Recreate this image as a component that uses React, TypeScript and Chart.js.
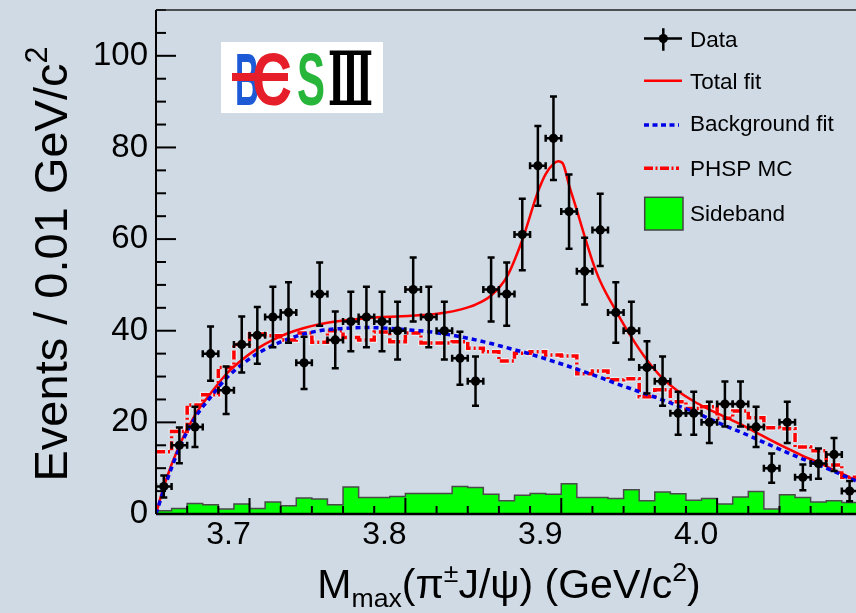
import React, { useEffect, useRef } from "react";
import { Chart, registerables } from "chart.js";

Chart.register(...registerables);

// ---------- data ----------
const massCenters = [3.645, 3.655, 3.665, 3.675, 3.685, 3.695, 3.705, 3.715, 3.725, 3.735, 3.745, 3.755, 3.765, 3.775, 3.785, 3.795, 3.805, 3.815, 3.825, 3.835, 3.845, 3.855, 3.865, 3.875, 3.885, 3.895, 3.905, 3.915, 3.925, 3.935, 3.945, 3.955, 3.965, 3.975, 3.985, 3.995, 4.005, 4.015, 4.025, 4.035, 4.045, 4.055, 4.065, 4.075, 4.085];
const dataCounts = [6, 15, 19, 35, 27, 37, 39, 43, 44, 33, 48, 38, 42, 43, 42, 40, 49, 43, 40, 34, 29, 49, 48, 61, 76, 82, 66, 53, 62, 44, 40, 32, 29, 22, 22, 20, 24, 24, 19, 10, 20, 8, 11, 13, 5];
const dataErrors = [2.4, 3.9, 4.4, 5.9, 5.2, 6.1, 6.2, 6.6, 6.6, 5.7, 6.9, 6.2, 6.5, 6.6, 6.5, 6.3, 7.0, 6.6, 6.3, 5.8, 5.4, 7.0, 6.9, 7.8, 8.7, 9.1, 8.1, 7.3, 7.9, 6.6, 6.3, 5.7, 5.4, 4.7, 4.7, 4.5, 4.9, 4.9, 4.4, 3.2, 4.5, 2.8, 3.3, 3.6, 2.2];
const BIN_HALF_WIDTH = 0.005;

const totalFitMass = [3.640, 3.645, 3.655, 3.665, 3.675, 3.685, 3.695, 3.705, 3.715, 3.725, 3.735, 3.745, 3.755, 3.765, 3.775, 3.785, 3.795, 3.805, 3.815, 3.825, 3.835, 3.845, 3.855, 3.865, 3.875, 3.885, 3.890, 3.895, 3.898, 3.901, 3.905, 3.910, 3.915, 3.920, 3.925, 3.935, 3.945, 3.955, 3.965, 3.975, 3.985, 3.995, 4.005, 4.015, 4.025, 4.035, 4.045, 4.055, 4.065, 4.075, 4.085, 4.090];
const totalFitValues = [0, 6.0, 15.0, 21.6, 26.3, 30.5, 33.6, 36.1, 38.0, 39.5, 40.6, 41.4, 42.0, 42.4, 42.7, 43.0, 43.1, 43.3, 43.5, 43.9, 44.6, 45.7, 47.7, 51.7, 59.8, 70.3, 74.2, 76.4, 77.0, 76.5, 71.8, 66.3, 60.6, 55.2, 50.8, 44.4, 38.6, 33.6, 29.6, 26.8, 24.6, 22.8, 21.2, 19.6, 17.8, 16.0, 14.3, 12.7, 11.2, 9.6, 8.0, 7.3];

const bkgFitMass = [3.640, 3.645, 3.655, 3.665, 3.675, 3.685, 3.695, 3.705, 3.715, 3.725, 3.735, 3.745, 3.755, 3.765, 3.775, 3.785, 3.795, 3.805, 3.815, 3.825, 3.835, 3.845, 3.855, 3.865, 3.875, 3.885, 3.895, 3.905, 3.915, 3.925, 3.935, 3.945, 3.955, 3.965, 3.975, 3.985, 3.995, 4.005, 4.015, 4.025, 4.035, 4.045, 4.055, 4.065, 4.075, 4.085, 4.090];
const bkgFitValues = [0, 5.3, 14.4, 21.0, 25.5, 29.6, 32.6, 35.0, 36.8, 38.2, 39.3, 40.0, 40.4, 40.6, 40.7, 40.6, 40.4, 40.1, 39.8, 39.3, 38.7, 38.0, 37.2, 36.3, 35.4, 34.4, 33.3, 32.2, 31.0, 29.8, 28.5, 27.3, 26.1, 24.9, 23.6, 22.3, 20.8, 19.3, 17.9, 16.4, 14.9, 13.4, 12.0, 10.7, 9.3, 7.8, 7.1];

const phspValues = [13.6, 18.0, 23.8, 26.0, 32.0, 37.0, 39.3, 38.9, 38.0, 39.5, 37.5, 40.0, 38.5, 38.0, 39.7, 37.6, 39.5, 37.3, 37.3, 37.6, 36.2, 35.4, 33.4, 35.1, 35.4, 34.7, 34.5, 30.6, 31.2, 29.3, 29.5, 25.6, 27.1, 24.5, 23.0, 23.4, 20.9, 22.5, 21.0, 18.8, 18.6, 14.6, 13.8, 10.7, 8.0];
const sidebandValues = [0.7, 1.2, 2.3, 2.0, 1.1, 2.2, 1.2, 2.6, 1.8, 3.5, 3.3, 2.0, 5.9, 3.6, 3.6, 3.8, 4.5, 4.5, 4.5, 6.0, 5.8, 4.3, 2.9, 4.1, 4.5, 4.3, 6.6, 3.6, 3.6, 3.4, 5.3, 2.9, 4.8, 4.4, 3.0, 3.4, 2.2, 3.7, 4.9, 1.1, 4.2, 3.6, 2.6, 2.9, 2.5];

const xTickValues = [3.7, 3.8, 3.9, 4.0];
const yTickValues = [0, 20, 40, 60, 80, 100];
const legendLabels = ["Data", "Total fit", "Background fit", "PHSP MC", "Sideband"];

// ---------- style ----------
const FONT = "'Liberation Sans', Arial, Helvetica, sans-serif";
const BG = "rgb(207,218,229)";
const RED = "#ff0000";
const BLUE = "#0000e6";
const GREEN = "#00ff00";

type Run = { t: string; s?: number; dy?: number };

function measureRuns(ctx: CanvasRenderingContext2D, runs: Run[], size: number) {
  return runs.map((r) => {
    ctx.font = `${size * (r.s ?? 1)}px ${FONT}`;
    return ctx.measureText(r.t).width;
  });
}

function drawRunsCentered(ctx: CanvasRenderingContext2D, runs: Run[], cx: number, baseline: number, size: number) {
  const widths = measureRuns(ctx, runs, size);
  const total = widths.reduce((a, b) => a + b, 0);
  let x = cx - total / 2;
  runs.forEach((r, i) => {
    ctx.font = `${size * (r.s ?? 1)}px ${FONT}`;
    ctx.fillText(r.t, x, baseline + (r.dy ?? 0) * size);
    x += widths[i];
  });
}

function drawFitted(ctx: CanvasRenderingContext2D, text: string, left: number, right: number, baseline: number, font: string, color: string) {
  ctx.save();
  ctx.font = font;
  const w = ctx.measureText(text).width;
  ctx.translate(left, baseline);
  ctx.scale((right - left) / w, 1);
  ctx.fillStyle = color;
  ctx.textAlign = "left";
  ctx.textBaseline = "alphabetic";
  ctx.fillText(text, 0, 0);
  ctx.restore();
}

const overlayPlugin = {
  id: "overlay",
  beforeDraw(chart: any) {
    const ctx = chart.ctx as CanvasRenderingContext2D;
    ctx.save();
    ctx.fillStyle = BG;
    ctx.fillRect(0, 0, chart.width, chart.height);
    ctx.restore();
  },
  afterDatasetsDraw(chart: any) {
    const ctx = chart.ctx as CanvasRenderingContext2D;
    const a = chart.chartArea;
    const xs = chart.scales.x;
    const ys = chart.scales.y;

    // error bars
    ctx.save();
    ctx.beginPath();
    ctx.rect(a.left, a.top, a.right - a.left, a.bottom - a.top);
    ctx.clip();
    ctx.strokeStyle = "#000";
    ctx.lineWidth = 2.5;
    const cap = 3.5;
    massCenters.forEach((m, i) => {
      const px = xs.getPixelForValue(m);
      const py = ys.getPixelForValue(dataCounts[i]);
      const pl = xs.getPixelForValue(m - BIN_HALF_WIDTH);
      const pr = xs.getPixelForValue(m + BIN_HALF_WIDTH);
      const pt = ys.getPixelForValue(dataCounts[i] + dataErrors[i]);
      const pb = ys.getPixelForValue(dataCounts[i] - dataErrors[i]);
      ctx.beginPath();
      ctx.moveTo(pl, py); ctx.lineTo(pr, py);
      ctx.moveTo(px, pt); ctx.lineTo(px, pb);
      ctx.moveTo(pl, py - cap); ctx.lineTo(pl, py + cap);
      ctx.moveTo(pr, py - cap); ctx.lineTo(pr, py + cap);
      ctx.moveTo(px - cap, pt); ctx.lineTo(px + cap, pt);
      ctx.moveTo(px - cap, pb); ctx.lineTo(px + cap, pb);
      ctx.stroke();
    });
    ctx.restore();

    // frame + inner ticks
    ctx.save();
    ctx.strokeStyle = "#000";
    ctx.lineWidth = 2;
    for (let v = 0; v <= ys.max + 1e-9; v += 5) {
      const y = ys.getPixelForValue(v);
      const len = v % 20 === 0 ? 20 : 10;
      ctx.beginPath();
      ctx.moveTo(a.left, y);
      ctx.lineTo(a.left + len, y);
      ctx.stroke();
    }
    for (let k = 0; ; k++) {
      const v = xs.min + 0.02 * k;
      if (v > xs.max + 1e-9) break;
      const major = Math.abs(v * 10 - Math.round(v * 10)) < 1e-6;
      const x = xs.getPixelForValue(v);
      ctx.beginPath();
      ctx.moveTo(x, a.bottom);
      ctx.lineTo(x, a.bottom - (major ? 16 : 8));
      ctx.stroke();
    }
    ctx.lineWidth = 2;
    ctx.beginPath();
    ctx.moveTo(a.left, a.top);
    ctx.lineTo(a.left, a.bottom);
    ctx.stroke();
    ctx.lineWidth = 2.5;
    ctx.beginPath();
    ctx.moveTo(a.left, a.bottom);
    ctx.lineTo(a.right, a.bottom);
    ctx.stroke();
    ctx.lineWidth = 1.3;
    ctx.strokeStyle = "#222";
    ctx.beginPath();
    ctx.moveTo(a.left, a.top);
    ctx.lineTo(a.right, a.top);
    ctx.stroke();
    ctx.restore();
  },
  afterDraw(chart: any) {
    const ctx = chart.ctx as CanvasRenderingContext2D;
    ctx.save();
    ctx.fillStyle = "#000";
    ctx.textBaseline = "alphabetic";
    ctx.textAlign = "left";

    // x title
    drawRunsCentered(
      ctx,
      [
        { t: "M" },
        { t: "max", s: 0.65, dy: 0.22 },
        { t: "(π" },
        { t: "±", s: 0.65, dy: -0.4 },
        { t: "J/ψ) (GeV/c" },
        { t: "2", s: 0.65, dy: -0.42 },
        { t: ")" },
      ],
      509,
      598,
      41
    );

    // y title
    ctx.save();
    ctx.translate(67, 264);
    ctx.rotate(-Math.PI / 2);
    drawRunsCentered(ctx, [{ t: "Events / 0.01 GeV/c" }, { t: "2", s: 0.65, dy: -0.42 }], 0, 0, 47);
    ctx.restore();

    // legend
    const lx0 = 644, lx1 = 682, tx = 690;
    const baselines = [46.7, 89.3, 131, 176, 220.7];
    const centers = [38.5, 80.7, 125, 168.3, 213.5];
    ctx.font = `22.5px ${FONT}`;
    legendLabels.forEach((lab, i) => ctx.fillText(lab, tx, baselines[i]));
    // data symbol
    ctx.strokeStyle = "#000";
    ctx.lineWidth = 2.5;
    ctx.beginPath();
    ctx.moveTo(lx0, centers[0]); ctx.lineTo(lx1, centers[0]);
    ctx.moveTo(663.3, 28.3); ctx.lineTo(663.3, 50.7);
    ctx.stroke();
    ctx.beginPath();
    ctx.arc(663.3, centers[0], 4.6, 0, Math.PI * 2);
    ctx.fill();
    // total fit
    ctx.strokeStyle = RED;
    ctx.lineWidth = 2.5;
    ctx.beginPath(); ctx.moveTo(lx0, centers[1]); ctx.lineTo(lx1, centers[1]); ctx.stroke();
    // background
    ctx.strokeStyle = BLUE;
    ctx.lineWidth = 3.5;
    ctx.setLineDash([5, 3.5]);
    ctx.beginPath(); ctx.moveTo(lx0, centers[2]); ctx.lineTo(lx1 - 3, centers[2]); ctx.stroke();
    // phsp
    ctx.strokeStyle = RED;
    ctx.setLineDash([9, 2.5, 2, 2.5]);
    ctx.beginPath(); ctx.moveTo(lx0, centers[3]); ctx.lineTo(lx1 - 3, centers[3]); ctx.stroke();
    ctx.setLineDash([]);
    // sideband box
    ctx.fillStyle = GREEN;
    ctx.fillRect(644.7, 197.3, 38.3, 32.7);
    ctx.strokeStyle = "#444";
    ctx.lineWidth = 1.5;
    ctx.strokeRect(644.7, 197.3, 38.3, 32.7);

    // BESIII logo
    ctx.fillStyle = "#ffffff";
    ctx.fillRect(221, 42, 162, 71);
    const bold = `bold 74px ${FONT}`;
    drawFitted(ctx, "B", 235, 259, 105, bold, "#1f5ad6");
    drawFitted(ctx, "C", 252, 292, 105, bold, "#e61e2a");
    ctx.fillStyle = "#e61e2a";
    ctx.fillRect(232, 73, 56, 8);
    drawFitted(ctx, "S", 297, 325, 105, bold, "#27b53a");
    drawFitted(ctx, "Ⅲ", 328, 373, 105, `bold 74px 'DejaVu Serif', serif`, "#000000");

    ctx.restore();
  },
};

export default function App() {
  const canvasRef = useRef<HTMLCanvasElement | null>(null);

  useEffect(() => {
    const canvas = canvasRef.current;
    if (!canvas) return;

    const pts = (xs: number[], ys: number[]) => xs.map((x, i) => ({ x, y: ys[i] }));
    const histPts = (vals: number[]) => {
      const p = massCenters.map((c, i) => ({ x: c - BIN_HALF_WIDTH, y: vals[i] }));
      const last = massCenters.length - 1;
      p.push({ x: massCenters[last] + BIN_HALF_WIDTH, y: vals[last] });
      return p;
    };

    const chart = new Chart(canvas, {
      type: "line",
      data: {
        datasets: [
          {
            label: "Data",
            data: pts(massCenters, dataCounts),
            showLine: false,
            pointRadius: 4.6,
            pointBackgroundColor: "#000",
            pointBorderWidth: 0,
            order: 0,
          } as any,
          {
            label: "Background fit",
            data: pts(bkgFitMass, bkgFitValues),
            borderColor: BLUE,
            borderWidth: 3.5,
            borderDash: [5, 4],
            pointRadius: 0,
            cubicInterpolationMode: "monotone",
            fill: false,
            order: 1,
          } as any,
          {
            label: "Total fit",
            data: pts(totalFitMass, totalFitValues),
            borderColor: RED,
            borderWidth: 2.5,
            pointRadius: 0,
            cubicInterpolationMode: "monotone",
            fill: false,
            order: 2,
          } as any,
          {
            label: "PHSP MC",
            data: histPts(phspValues),
            borderColor: RED,
            borderWidth: 3.5,
            borderDash: [9, 3, 2, 3],
            stepped: "before",
            pointRadius: 0,
            fill: false,
            order: 3,
          } as any,
          {
            label: "PHSP halo",
            data: histPts(phspValues),
            borderColor: "rgba(255,255,255,0.55)",
            borderWidth: 6,
            borderDash: [9, 3, 2, 3],
            stepped: "before",
            pointRadius: 0,
            fill: false,
            order: 4,
          } as any,
          {
            label: "Sideband",
            data: histPts(sidebandValues),
            borderColor: "#4a4a4a",
            borderWidth: 1.5,
            backgroundColor: GREEN,
            stepped: "before",
            pointRadius: 0,
            fill: "origin",
            order: 5,
          } as any,
        ],
      },
      options: {
        animation: false,
        responsive: false,
        devicePixelRatio: 1,
        events: [],
        layout: { padding: { top: 10, left: 0, right: 0, bottom: 0 } },
        plugins: { legend: { display: false }, tooltip: { enabled: false }, title: { display: false } },
        scales: {
          x: {
            type: "linear",
            min: 3.64,
            max: 4.09,
            grid: { display: false, drawTicks: false },
            border: { display: false },
            afterBuildTicks: (s: any) => {
              s.ticks = xTickValues.map((v) => ({ value: v }));
            },
            afterFit: (s: any) => {
              s.height = 99;
              s.paddingLeft = 0;
              s.paddingRight = 0;
            },
            ticks: {
              autoSkip: false,
              maxRotation: 0,
              padding: 2,
              labelOffset: -21,
              color: "#000",
              font: { family: FONT, size: 32 },
              callback: (v: any) => Number(v).toFixed(1),
            },
          },
          y: {
            type: "linear",
            min: 0,
            max: 110,
            grid: { display: false, drawTicks: false },
            border: { display: false },
            afterBuildTicks: (s: any) => {
              s.ticks = yTickValues.map((v) => ({ value: v }));
            },
            afterFit: (s: any) => {
              s.width = 156;
              s.paddingTop = 0;
              s.paddingBottom = 0;
            },
            ticks: {
              autoSkip: false,
              padding: 8,
              color: "#000",
              font: { family: FONT, size: 33 },
              callback: (v: any) => String(v),
            },
          },
        },
      },
      plugins: [overlayPlugin as any],
    });

    return () => chart.destroy();
  }, []);

  return (
    <div
      style={{
        position: "fixed",
        left: 0,
        top: 0,
        width: 856,
        height: 613,
        overflow: "hidden",
        background: BG,
      }}
    >
      <canvas ref={canvasRef} width={862} height={613} style={{ display: "block", width: 862, height: 613 }} />
    </div>
  );
}
